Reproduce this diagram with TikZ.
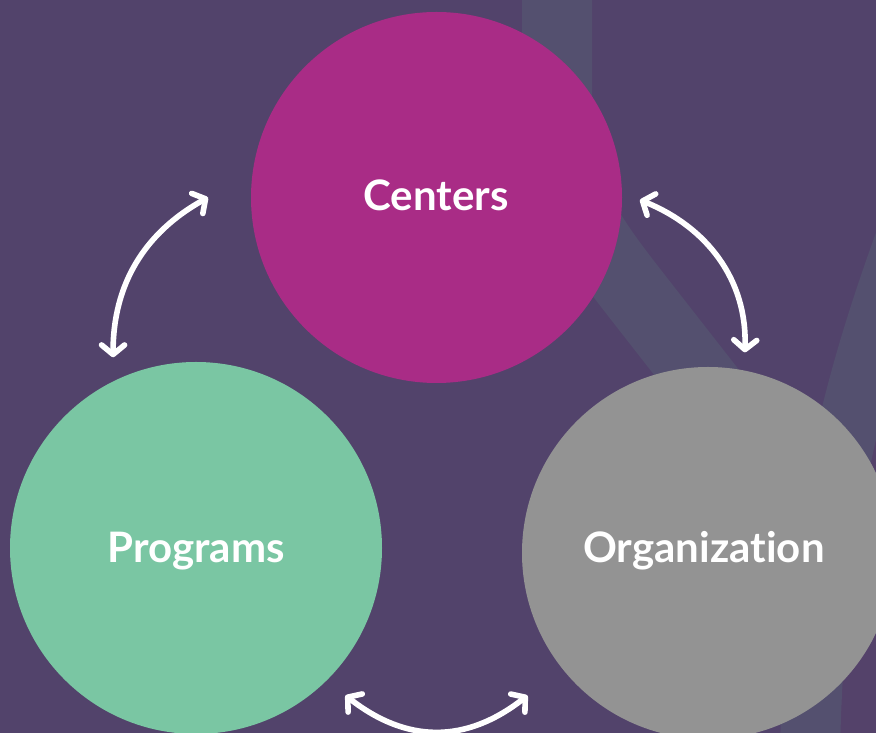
\documentclass[tikz,border=0pt]{standalone}
\usepackage{fontspec}
\setmainfont{Lato}[Ligatures={NoCommon,NoRare,NoDiscretionary}]
\usetikzlibrary{arrows.meta,calc}

\definecolor{bgpurple}{RGB}{82,67,107}
\definecolor{bandgray}{RGB}{84,80,111}
\definecolor{edgeplum}{RGB}{84,66,106}
\definecolor{centermag}{RGB}{169,44,134}
\definecolor{progreen}{RGB}{122,198,163}
\definecolor{orggray}{RGB}{147,147,147}

\tikzset{
  hub/.style={circle, inner sep=0pt, minimum size=#1},
  hublabel/.style={anchor=base, text=white, inner sep=0pt,
    font=\fontsize{42pt}{48pt}\selectfont\bfseries},
  band/.style={draw=bandgray, line width=#1},
  link/.style={draw=white, line width=5.6pt, line cap=round,
    {Straight Barb[length=9.5pt,width=23pt,round]}-{Straight Barb[length=9.5pt,width=23pt,round]}}
}

\begin{document}
\begin{tikzpicture}[x=1pt,y=1pt]
  \useasboundingbox (0,0) rectangle (876,733);
  \clip (0,0) rectangle (876,733);
  \fill[bgpurple] (0,0) rectangle (876,733);

  % soft background ribbons
  \fill[edgeplum] (900,300) -- (862,300) .. controls (848,200) and (840,100) .. (840,-10) -- (900,-10) -- cycle;
  \draw[band=70pt] (557,760) -- (557,620) .. controls (557,540) and (590,497) .. (640,433) -- (740,305);
  \draw[band=60pt] (930,560) .. controls (870,400) and (815,250) .. (810,-20);

  % the three hubs
  \node[hub=371pt, fill=centermag] (centers) at (436.5,535.5) {};
  \node[hub=372pt, fill=progreen] (programs) at (196,185) {};
  \node[hub=372pt, fill=orggray] (organization) at (708,180) {};

  \node[hublabel] (centerstext) at (436,522) {Centers};
  \node[hublabel] (programstext) at (196,170) {Programs};
  \node[hublabel] (orgtext) at (704,170) {Organization};

  % two-way links between hubs
  \draw[link] ($(programs.center)+(113.5:208)$) to[out=90,in=209] ($(centers.center)+(180:228.5)$);
  \draw[link] ($(centers.center)+(-0.7:203.5)$) to[out=-22,in=88] ($(organization.center)+(79.6:204)$);
  \draw[link] ($(programs.center)+(-44.6:210)$) to[out=-38,in=-142,looseness=1.1] ($(organization.center)+(-141.7:230)$);
\end{tikzpicture}
\end{document}
